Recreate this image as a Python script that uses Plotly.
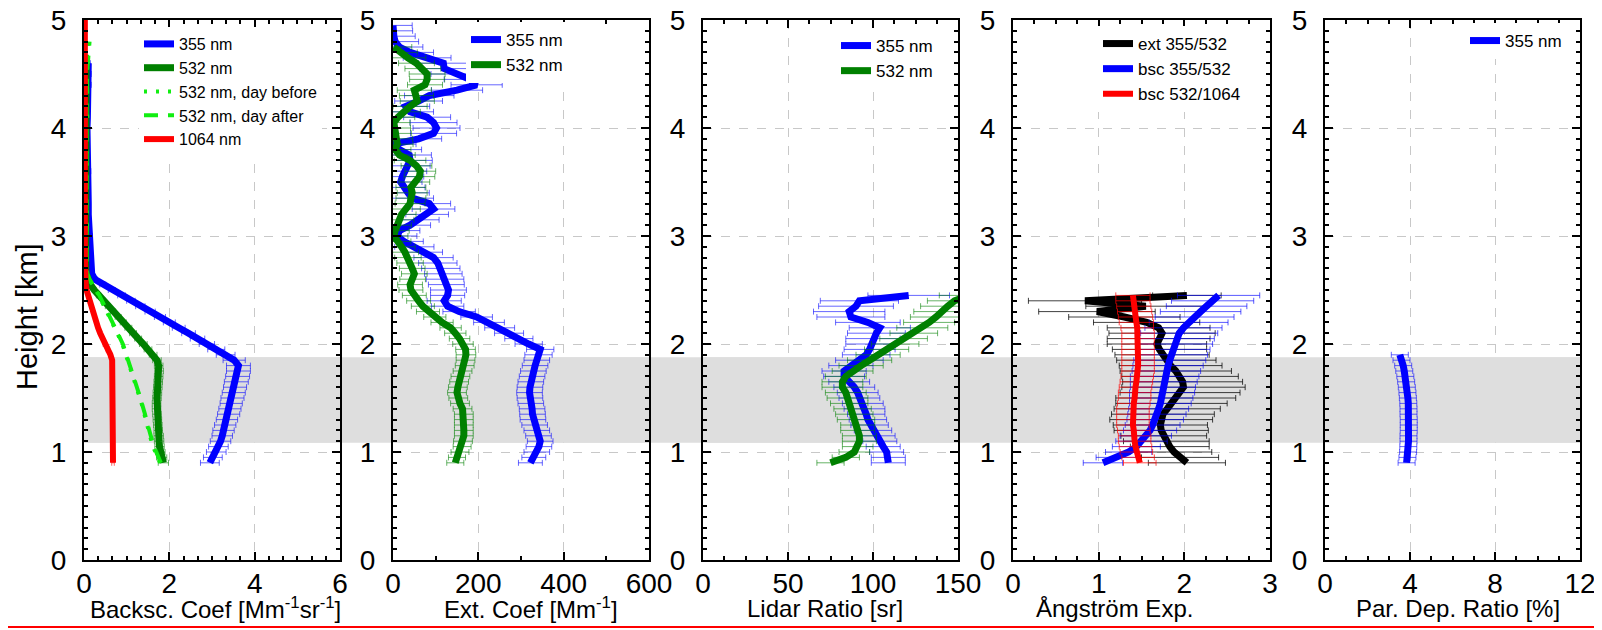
import plotly.graph_objects as go

# ---------------- data ----------------
# Panel 1: backscatter coefficient [Mm-1 sr-1]
H_BSC = [0.90, 0.95, 1.00, 1.05, 1.10, 1.15, 1.20, 1.25, 1.30, 1.35, 1.40, 1.45, 1.50,
         1.55, 1.60, 1.65, 1.70, 1.75, 1.80, 1.85, 1.90, 1.95, 2.00, 2.05, 2.10, 2.15,
         2.20, 2.25, 2.30, 2.35, 2.40, 2.45, 2.50, 2.55, 2.60, 2.65, 2.70,
         2.8, 2.9, 3.0, 3.1, 3.2, 3.3, 3.4, 3.5, 3.6, 3.7, 3.8, 3.9, 4.0, 4.1, 4.2,
         4.3, 4.4, 4.5, 4.6, 4.7, 4.8, 4.9, 5.0]
BSC_355 = [2.95, 3.02, 3.10, 3.15, 3.20, 3.24, 3.27, 3.31, 3.35, 3.39, 3.42, 3.45, 3.48,
           3.51, 3.54, 3.57, 3.60, 3.62, 3.62, 3.52, 3.32, 3.10, 2.88, 2.66, 2.45, 2.22,
           2.00, 1.78, 1.55, 1.32, 1.10, 0.88, 0.65, 0.44, 0.25, 0.18, 0.17,
           0.16, 0.15, 0.14, 0.12, 0.10, 0.10, 0.09, 0.10, 0.11, 0.10, 0.08, 0.08, 0.07,
           0.08, 0.09, 0.10, 0.12, 0.12, 0.10, None, None, None, None]
BSC_355_ERR = [0.22, 0.22, 0.23, 0.23, 0.24, 0.24, 0.25, 0.25, 0.25, 0.26, 0.26, 0.26, 0.27,
               0.27, 0.27, 0.28, 0.28, 0.28, 0.28, 0.26, 0.22, 0.20, 0.18, 0.17, 0.16, 0.15,
               0.14, 0.13, 0.12, 0.11, 0.10, 0.09, 0.08, 0.07, 0.06, 0.06, 0.05,
               0.05, 0.05, 0.05, 0.05, 0.05, 0.05, 0.05, 0.05, 0.05, 0.05, 0.05, 0.05, 0.05,
               0.05, 0.05, 0.05, 0.05, 0.05, 0.05, None, None, None, None]
BSC_532 = [1.86, 1.82, 1.79, 1.77, 1.76, 1.75, 1.74, 1.73, 1.72, 1.71, 1.70, 1.70, 1.71,
           1.72, 1.73, 1.74, 1.75, 1.76, 1.75, 1.71, 1.62, 1.50, 1.39, 1.27, 1.15, 1.04,
           0.92, 0.80, 0.68, 0.56, 0.45, 0.34, 0.24, 0.15, 0.08, 0.05, 0.04,
           0.04, 0.04, 0.05, 0.05, 0.04, 0.04, 0.05, 0.05, 0.04, 0.04, 0.05, 0.05, 0.04,
           0.05, 0.05, 0.05, 0.06, 0.05, 0.05, None, None, None, None]
BSC_532_ERR = [0.12, 0.12, 0.11, 0.11, 0.11, 0.11, 0.10, 0.10, 0.10, 0.10, 0.10, 0.10, 0.10,
               0.10, 0.10, 0.10, 0.10, 0.10, 0.10, 0.10, 0.09, 0.09, 0.09, 0.08, 0.08, 0.08,
               0.07, 0.07, 0.06, 0.06, 0.05, 0.05, 0.04, 0.04, 0.03, 0.03, 0.03,
               0.03, 0.03, 0.03, 0.03, 0.03, 0.03, 0.03, 0.03, 0.03, 0.03, 0.03, 0.03, 0.03,
               0.03, 0.03, 0.03, 0.03, 0.03, 0.03, None, None, None, None]
BSC_532_BEFORE = [1.78, 1.72, 1.67, 1.62, 1.58, 1.55, 1.52, 1.48, 1.45, 1.42, 1.39, 1.35, 1.31,
                  1.27, 1.23, 1.19, 1.15, 1.12, 1.08, 1.04, 1.00, 0.95, 0.90, 0.84, 0.78, 0.72,
                  0.66, 0.60, 0.54, 0.48, 0.42, 0.35, 0.27, 0.19, 0.12, 0.07, 0.05,
                  0.05, 0.06, 0.04, 0.05, 0.07, 0.05, 0.04, 0.06, 0.05, 0.07, 0.05, 0.04, 0.06,
                  0.08, 0.05, 0.06, 0.07, 0.09, 0.08, 0.07, 0.10, None, None]
BSC_532_AFTER = [1.80, 1.74, 1.69, 1.64, 1.60, 1.56, 1.53, 1.49, 1.46, 1.43, 1.40, 1.36, 1.32,
                 1.28, 1.24, 1.20, 1.16, 1.13, 1.09, 1.05, 1.01, 0.96, 0.91, 0.85, 0.79, 0.73,
                 0.67, 0.61, 0.55, 0.49, 0.43, 0.36, 0.28, 0.20, 0.13, 0.08, 0.06,
                 0.06, 0.05, 0.06, 0.07, 0.05, 0.06, 0.06, 0.05, 0.07, 0.06, 0.05, 0.06, 0.07,
                 0.05, 0.06, 0.08, 0.07, 0.06, 0.09, 0.12, 0.13, None, None]
BSC_1064 = [0.68, 0.68, 0.68, 0.68, 0.68, 0.68, 0.68, 0.68, 0.68, 0.68, 0.68, 0.68, 0.68,
            0.68, 0.68, 0.68, 0.68, 0.67, 0.67, 0.66, 0.62, 0.55, 0.48, 0.43, 0.38, 0.33,
            0.29, 0.24, 0.20, 0.16, 0.12, 0.09, 0.06, 0.04, 0.03, 0.02, 0.02,
            0.02, 0.02, 0.02, 0.02, 0.02, 0.02, 0.02, 0.02, 0.02, 0.02, 0.02, 0.02, 0.02,
            0.02, 0.02, 0.02, 0.02, 0.02, 0.02, 0.02, 0.02, 0.02, 0.02]
BSC_1064_ERR = [0.03, 0.03, 0.03, 0.03, 0.03, 0.03, 0.03, 0.03, 0.03, 0.03, 0.03, 0.03, 0.03,
                0.03, 0.03, 0.03, 0.03, 0.03, 0.03, 0.03, 0.03, 0.03, 0.03, 0.02, 0.02, 0.02,
                0.02, 0.02, 0.02, 0.02, 0.02, 0.02, 0.01, 0.01, 0.01, 0.01, 0.01,
                0.01, 0.01, 0.01, 0.01, 0.01, 0.01, 0.01, 0.01, 0.01, 0.01, 0.01, 0.01, 0.01,
                0.01, 0.01, 0.01, 0.01, 0.01, 0.01, 0.01, 0.01, 0.01, 0.01]

# Panel 2: extinction coefficient [Mm-1]
H_EXT = [0.90, 0.95, 1.00, 1.05, 1.10, 1.15, 1.20, 1.25, 1.30, 1.35, 1.40, 1.45, 1.50, 1.55,
         1.60, 1.65, 1.70, 1.75, 1.80, 1.85, 1.90, 1.95, 2.00, 2.05, 2.10, 2.15, 2.20, 2.25,
         2.30, 2.35, 2.40, 2.45, 2.50, 2.55, 2.60, 2.65, 2.70, 2.75, 2.80, 2.85, 2.90, 2.95,
         3.00, 3.05, 3.10, 3.15, 3.20, 3.25, 3.30, 3.35, 3.40, 3.45, 3.50, 3.55, 3.60, 3.65,
         3.70, 3.75, 3.80, 3.85, 3.90, 3.95, 4.00, 4.05, 4.10, 4.15, 4.20, 4.25, 4.30, 4.35,
         4.40, 4.45, 4.50, 4.55, 4.60, 4.65, 4.70, 4.75, 4.80, 4.85, 4.90, 4.95]
EXT_355 = [322, 330, 337, 342, 345, 341, 337, 332, 328, 327, 326, 323, 321, 320,
           321, 323, 326, 329, 333, 337, 341, 345, 318, 295, 272, 250, 225, 196,
           155, 128, 120, 128, 130, 125, 122, 118, 112, 105, 95, 70, 50, 25,
           10, 15, 40, 60, 80, 95, 85, 45, 35, 25, 18, 22, 27, 35,
           40, 38, 15, 2, 60, 95, 102, 95, 80, 40, 30, 60, 85, 150,
           196, 180, 149, 120, 118, 80, 40, 15, 5, 2, 1, 0]
EXT_355_ERR = [28, 28, 30, 30, 30, 30, 30, 30, 30, 30, 30, 30, 30, 30,
               30, 30, 30, 30, 30, 30, 32, 32, 32, 33, 34, 35, 36, 37,
               38, 38, 40, 40, 42, 42, 44, 44, 45, 45, 46, 46, 46, 46,
               46, 48, 48, 48, 50, 50, 50, 50, 50, 50, 50, 50, 52, 52,
               52, 52, 52, 52, 54, 54, 55, 55, 55, 55, 56, 56, 58, 60,
               60, 60, 60, 58, 58, 56, 55, 55, 55, 50, 45, 45]
EXT_532 = [146, 150, 157, 162, 164, 166, 166, 166, 166, 166, 163, 157, 153, 150,
           152, 155, 158, 163, 168, 170, 171, 170, 164, 156, 146, 135, 115, 98,
           82, 70, 60, 50, 42, 40, 46, 50, 45, 40, 35, 28, 20, 10,
           2, 5, 10, 15, 20, 30, 40, 42, 45, 42, 50, 62, 64, 55,
           40, 15, 5, 10, 8, 5, 3, 2, 12, 25, 40, 57, 55, 50,
           75, 80, 80, 70, 55, 35, 15, 2, None, None, None, None]
EXT_532_ERR = [20, 20, 21, 21, 22, 22, 22, 22, 22, 22, 22, 22, 22, 22,
               22, 22, 22, 22, 22, 22, 23, 23, 24, 24, 25, 25, 26, 26,
               27, 27, 28, 28, 28, 29, 30, 30, 30, 31, 31, 32, 32, 32,
               33, 33, 33, 34, 34, 34, 35, 35, 35, 35, 36, 36, 36, 36,
               37, 37, 37, 37, 38, 38, 38, 38, 39, 39, 40, 40, 40, 40,
               41, 41, 42, 42, 42, 42, 42, 42, None, None, None, None]

# Panel 3: lidar ratio [sr]
H_LR = [0.90, 0.95, 1.00, 1.05, 1.10, 1.15, 1.20, 1.25, 1.30, 1.35, 1.40, 1.45, 1.50, 1.55,
        1.60, 1.65, 1.70, 1.75, 1.80, 1.85, 1.90, 1.95, 2.00, 2.05, 2.10, 2.15, 2.20, 2.25,
        2.30, 2.35, 2.40, 2.45]
LR_355 = [109, 109, 108, 106, 104, 102, 100, 98, 97, 96, 95, 94, 92, 91,
          89, 86, 83, 83, 87, 92, 96, 98, 99, 100, 102, 104, 97, 87,
          86, 90, 92, 121]
LR_355_ERR = [10, 10, 10, 10, 10, 11, 11, 11, 11, 11, 12, 12, 12, 12,
              12, 12, 12, 13, 13, 14, 14, 15, 15, 16, 17, 18, 19, 20,
              21, 22, 23, 24]
LR_532 = [75, 84, 89, 91, 92, 92, 91, 91, 90, 89, 88, 86, 85, 84,
          82, 82, 84, 88, 93, 98, 103, 108, 113, 118, 124, 129, 133, 137,
          140, 144, 148, 156]
LR_532_ERR = [8, 8, 9, 9, 10, 10, 10, 10, 11, 11, 11, 11, 12, 12,
              12, 12, 12, 12, 13, 13, 13, 13, 14, 14, 14, 15, 15, 15,
              16, 16, 16, 17]

# Panel 4: Angstrom exponents
H_AE = H_LR
AE_EXT = [2.03, 1.95, 1.88, 1.83, 1.79, 1.76, 1.73, 1.72, 1.73, 1.75, 1.80, 1.85, 1.90, 1.95,
          1.99, 1.98, 1.95, 1.90, 1.84, 1.79, 1.74, 1.71, 1.68, 1.70, 1.74, 1.70, 1.56, 1.30,
          0.98, 1.55, 0.84, 2.03]
AE_EXT_ERR = [0.45, 0.45, 0.44, 0.46, 0.50, 0.50, 0.55, 0.55, 0.60, 0.60, 0.62, 0.65, 0.70, 0.70,
              0.72, 0.70, 0.68, 0.65, 0.60, 0.58, 0.55, 0.55, 0.58, 0.60, 0.62, 0.60, 0.62, 0.65,
              0.68, 0.70, 0.66, 0.40]
AE_BSC_355_532 = [1.05, 1.22, 1.35, 1.44, 1.50, 1.55, 1.60, 1.63, 1.66, 1.68, 1.70, 1.72, 1.73, 1.74,
                  1.75, 1.76, 1.77, 1.79, 1.81, 1.83, 1.85, 1.87, 1.89, 1.91, 1.94, 1.99, 2.05, 2.12,
                  2.19, 2.26, 2.33, 2.40]
AE_BSC_355_532_ERR = [0.23, 0.25, 0.27, 0.28, 0.30, 0.30, 0.31, 0.32, 0.33, 0.34, 0.35, 0.36, 0.37, 0.38,
                      0.38, 0.39, 0.40, 0.40, 0.41, 0.42, 0.42, 0.43, 0.44, 0.44, 0.45, 0.45, 0.46, 0.46,
                      0.47, 0.47, 0.48, 0.48]
AE_BSC_532_1064 = [1.48, 1.46, 1.44, 1.43, 1.42, 1.42, 1.41, 1.40, 1.40, 1.40, 1.40, 1.41, 1.42, 1.42,
                   1.43, 1.44, 1.45, 1.46, 1.46, 1.46, 1.46, 1.46, 1.46, 1.46, 1.46, 1.45, 1.44, 1.43,
                   1.42, 1.41, 1.40, 1.40]
AE_BSC_532_1064_ERR = [0.19, 0.19, 0.19, 0.19, 0.19, 0.19, 0.19, 0.19, 0.19, 0.19, 0.19, 0.19, 0.19, 0.19,
                       0.19, 0.19, 0.19, 0.19, 0.19, 0.19, 0.19, 0.19, 0.19, 0.19, 0.19, 0.19, 0.20, 0.20,
                       0.20, 0.20, 0.20, 0.20]

# Panel 5: particle depolarization ratio [%]
H_DEP = [0.90, 0.95, 1.00, 1.05, 1.10, 1.15, 1.20, 1.25, 1.30, 1.35, 1.40, 1.45, 1.50, 1.55,
         1.60, 1.65, 1.70, 1.75, 1.80, 1.85, 1.90]
DEP_355 = [3.84, 3.88, 3.91, 3.92, 3.93, 3.93, 3.94, 3.94, 3.94, 3.93, 3.93, 3.92, 3.90, 3.88,
           3.85, 3.82, 3.78, 3.73, 3.68, 3.60, 3.52]
DEP_355_ERR = [0.40, 0.40, 0.40, 0.40, 0.40, 0.40, 0.40, 0.40, 0.40, 0.40, 0.40, 0.40, 0.40, 0.40,
               0.40, 0.40, 0.40, 0.40, 0.40, 0.40, 0.40]

# Axis titles
X_TITLES = ["Backsc. Coef [Mm<sup>-1</sup>sr<sup>-1</sup>]", "Ext. Coef [Mm<sup>-1</sup>]",
            "Lidar Ratio [sr]", "Ångström Exp.", "Par. Dep. Ratio [%]"]
Y_TITLE = "Height [km]"

# Shaded layer (km)
LAYER_BOTTOM, LAYER_TOP = 1.086, 1.877

# ---------------- styling ----------------
FONT = "Liberation Sans, Arial, Helvetica, sans-serif"
BLUE, GREEN, LIME, RED, BLACK = "#0000ff", "#008000", "#11ee11", "#ff0000", "#000000"
BAND = "#dedede"

W, H = 1602, 630
OFF = 8  # the page body margin shifts the figure by this many pixels
# plot-area edges in screen pixels
SCR_LEFT, SCR_RIGHT, SCR_TOP, SCR_BOTTOM = 84, 1580, 20, 560
ML = SCR_LEFT - OFF
MT = SCR_TOP - OFF
MR = W - (SCR_RIGHT - OFF)
MB = H - (SCR_BOTTOM - OFF)
PW, PH = SCR_RIGHT - SCR_LEFT, SCR_BOTTOM - SCR_TOP


def px_x(p):
    """screen x pixel -> paper fraction"""
    return (p - SCR_LEFT) / PW


def px_y(p):
    """screen y pixel -> paper fraction"""
    return (SCR_BOTTOM - p) / PH


fig = go.Figure()


def add(i, x, y, err, color, ecolor, name, width=7, dash="solid"):
    fig.add_trace(go.Scatter(
        x=x, y=y, mode="lines", name=name,
        xaxis="x" if i == 1 else f"x{i}", yaxis="y" if i == 1 else f"y{i}",
        line=dict(color=color, width=width, dash=dash),
        error_x=(dict(type="data", array=err, symmetric=True, thickness=1, width=3,
                      color=ecolor) if err is not None else None),
        legend="legend" if i == 1 else f"legend{i}",
        connectgaps=False, hoverinfo="skip",
    ))


# Panel 1
add(1, BSC_355, H_BSC, BSC_355_ERR, BLUE, "rgba(0,0,255,0.6)", "355 nm")
add(1, BSC_532, H_BSC, BSC_532_ERR, GREEN, "rgba(0,128,0,0.6)", "532 nm")
add(1, BSC_532_BEFORE, H_BSC, None, LIME, None, "532 nm, day before", width=4, dash="3px,9px")
add(1, BSC_532_AFTER, H_BSC, None, LIME, None, "532 nm, day after", width=4, dash="14px,10px")
add(1, BSC_1064, H_BSC, BSC_1064_ERR, RED, "rgba(255,0,0,0.6)", "1064 nm", width=6)
# Panel 2
add(2, EXT_355, H_EXT, EXT_355_ERR, BLUE, "rgba(0,0,255,0.6)", "355 nm")
add(2, EXT_532, H_EXT, EXT_532_ERR, GREEN, "rgba(0,128,0,0.6)", "532 nm")
# Panel 3
add(3, LR_355, H_LR, LR_355_ERR, BLUE, "rgba(0,0,255,0.6)", "355 nm")
add(3, LR_532, H_LR, LR_532_ERR, GREEN, "rgba(0,128,0,0.6)", "532 nm")
# Panel 4
add(4, AE_EXT, H_AE, AE_EXT_ERR, BLACK, "rgba(0,0,0,0.75)", "ext 355/532")
add(4, AE_BSC_355_532, H_AE, AE_BSC_355_532_ERR, BLUE, "rgba(0,0,255,0.65)", "bsc 355/532")
add(4, AE_BSC_532_1064, H_AE, AE_BSC_532_1064_ERR, RED, "rgba(255,0,0,0.7)", "bsc 532/1064", width=6)
# Panel 5
add(5, DEP_355, H_DEP, DEP_355_ERR, BLUE, "rgba(0,0,255,0.6)", "355 nm")

# ---------------- axes ----------------
panels = [
    # (left px, right px, range, dtick, minor dtick, title centre px)
    (84, 340, [0, 6], 2, 2 / 6, 215),
    (393, 649, [0, 600], 200, 100, 531),
    (703, 958, [0, 150], 50, 12.5, 825),
    (1013, 1270, [0, 3], 1, 0.25, 1114),
    (1325, 1580, [0, 12], 4, 1, 1458),
]

common = dict(
    showline=True, linewidth=2, linecolor="black", mirror="ticks",
    ticks="inside", ticklen=8, tickwidth=2, tickcolor="black",
    showgrid=True, gridcolor="#c8c8c8", gridwidth=1, griddash="dash",
    zeroline=False, automargin=False, ticklabeloverflow="allow",
    tickfont=dict(family=FONT, size=28, color="black"),
)

layout = dict(
    width=W, height=H, autosize=False,
    margin=dict(l=ML, r=MR, t=MT, b=MB, pad=0, autoexpand=False),
    paper_bgcolor="white", plot_bgcolor="rgba(0,0,0,0)",
    font=dict(family=FONT, color="black"),
    showlegend=True,
)

annotations = [
    dict(text=Y_TITLE, textangle=-90, xref="paper", yref="paper",
         x=px_x(27), y=px_y(317), xanchor="center", yanchor="middle", showarrow=False,
         font=dict(family=FONT, size=29, color="black")),
]

# shaded layer: one band across the whole row (visible in the gaps) ...
shapes = [
    dict(type="rect", xref="paper", yref="paper", x0=0, x1=1,
         y0=LAYER_BOTTOM / 5, y1=LAYER_TOP / 5, fillcolor=BAND,
         line=dict(width=0), layer="below"),
]

for i, (l, r, rng, dt, mdt, tcx) in enumerate(panels, start=1):
    xs = "" if i == 1 else str(i)
    layout[f"xaxis{xs}"] = dict(
        common, domain=[px_x(l), px_x(r)], anchor=f"y{xs}", range=rng, dtick=dt, tick0=0,
        ticklabelstandoff=-3,
        minor=dict(ticks="inside", ticklen=4, tickwidth=1.5, tickcolor="black",
                   dtick=mdt, tick0=0, showgrid=False),
    )
    layout[f"yaxis{xs}"] = dict(
        common, domain=[0, 1], anchor=f"x{xs}", range=[0, 5], dtick=1, tick0=0,
        ticklabelstandoff=10,
        minor=dict(ticks="inside", ticklen=4, tickwidth=1.5, tickcolor="black",
                   dtick=0.1, tick0=0, showgrid=False),
    )
    annotations.append(dict(
        text=X_TITLES[i - 1], xref="paper", yref="paper", x=px_x(tcx), y=px_y(608),
        xanchor="center", yanchor="middle", showarrow=False,
        font=dict(family=FONT, size=24, color="black")))
    # ... and, inside every panel, the same band drawn over the grid lines
    shapes.append(dict(
        type="rect", xref=f"x{xs}", yref=f"y{xs}", x0=rng[0], x1=rng[1],
        y0=LAYER_BOTTOM, y1=LAYER_TOP, fillcolor=BAND, line=dict(width=0), layer="between"))

layout["annotations"] = annotations

# ---------------- legends ----------------
leg_common = dict(bgcolor="white", borderwidth=0, xanchor="left", yanchor="top",
                  tracegroupgap=0, itemsizing="trace")
# (screen x of legend box, screen y of legend top, font size)
legend_pos = [(139, 27, 16), (466, 22, 17), (836, 28, 17), (1098, 26, 17), (1465, 23, 17)]
for i, (lx, ty, fs) in enumerate(legend_pos, start=1):
    key = "legend" if i == 1 else f"legend{i}"
    layout[key] = dict(leg_common, x=px_x(lx), y=px_y(ty),
                       font=dict(family=FONT, size=fs, color="black"))

# bottom red rule
shapes.append(dict(type="line", xref="paper", yref="paper", x0=px_x(8), x1=px_x(1600),
                   y0=px_y(627), y1=px_y(627), line=dict(color="red", width=2)))
layout["shapes"] = shapes

fig.update_layout(layout)
fig.write_html("out.html")
